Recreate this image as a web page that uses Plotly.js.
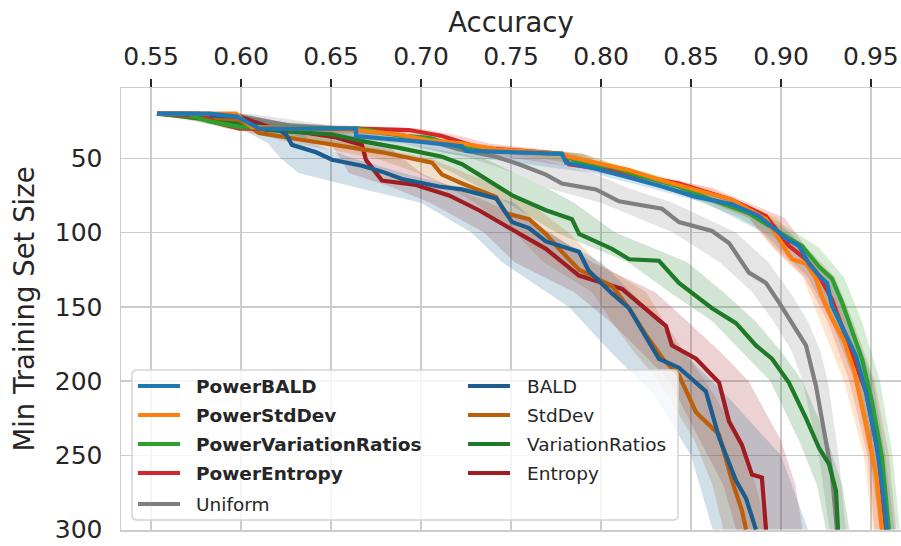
<!DOCTYPE html>
<html>
<head>
<meta charset="utf-8">
<script src="https://cdn.plot.ly/plotly-3.0.1.min.js"></script>
<style>html,body{margin:0;padding:0;background:#fff;}#chart{width:901px;height:546px;}</style>
</head>
<body>
<div id="chart"></div>
<script>
// ---- Series names ----
const NAMES = ['PowerBALD','PowerStdDev','PowerVariationRatios','PowerEntropy','Uniform','BALD','StdDev','VariationRatios','Entropy'];

// ---- Lines: accuracy (x) and min training set size (y) ----
const PBALD_X = [0.5533,0.5822,0.5978,0.6044,0.6100,0.6639,0.6639,0.7006,0.7228,0.7250,0.7783,0.7806,0.7972,0.8156,0.8339,0.8528,0.8728,0.8878,0.8972,0.9028,0.9100,0.9156,0.9211,0.9256,0.9283,0.9339,0.9417,0.9472,0.9528,0.9561,0.9589];
const PBALD_Y = [20,20,22,26,30,30,35,39,42,45,47,53,57,63,69,76,81,89,98,104,109,121,129,134,149,163,183,207,241,269,300];

const PSTD_X = [0.5533,0.5972,0.6028,0.6061,0.6639,0.6878,0.7044,0.7228,0.7417,0.7783,0.7822,0.7972,0.8156,0.8339,0.8528,0.8728,0.8917,0.8972,0.9061,0.9139,0.9194,0.9228,0.9283,0.9350,0.9406,0.9472,0.9528,0.9561];
const PSTD_Y = [20,20,26,29,31,34,38,40,44,47,49,53,58,65,71,78,91,101,118,121,131,143,158,173,193,229,263,300];

const PVR_X = [0.5533,0.5711,0.5739,0.5822,0.5989,0.6639,0.6711,0.6894,0.7044,0.7228,0.7417,0.7783,0.7878,0.8061,0.8250,0.8433,0.8617,0.8822,0.9006,0.9117,0.9211,0.9283,0.9339,0.9394,0.9450,0.9506,0.9561,0.9600];
const PVR_Y = [20,20,22,25,29,30,31,35,36,43,45,47,53,56,63,69,78,87,101,109,123,131,147,165,185,214,251,300];

const PENT_X = [0.5533,0.5767,0.5861,0.5989,0.6639,0.6933,0.7117,0.7322,0.7783,0.7822,0.8061,0.8250,0.8433,0.8617,0.8728,0.8917,0.9044,0.9139,0.9211,0.9283,0.9339,0.9394,0.9472,0.9544,0.9583];
const PENT_Y = [20,20,26,30,30,31,35,43,47,54,58,63,67,74,78,89,109,118,129,145,163,181,207,251,300];

const UNI_X = [0.5533,0.6044,0.6267,0.6639,0.6989,0.7211,0.7417,0.7544,0.7694,0.7783,0.7972,0.8100,0.8339,0.8433,0.8617,0.8711,0.8822,0.8917,0.8989,0.9061,0.9139,0.9194,0.9250,0.9283,0.9311];
const UNI_Y = [20,23,28,31,36,44,49,54,61,67,71,79,84,93,99,107,127,134,147,161,176,203,241,263,300];

const BALD_X = [0.5533,0.5989,0.6044,0.6211,0.6250,0.6283,0.6417,0.6506,0.6672,0.6783,0.6894,0.7100,0.7228,0.7417,0.7506,0.7600,0.7694,0.7878,0.7933,0.8061,0.8156,0.8228,0.8322,0.8433,0.8583,0.8656,0.8750,0.8806,0.8861];
const BALD_Y = [20,22,27,31,34,41,46,51,55,59,64,69,71,77,93,97,106,113,126,141,151,166,185,191,207,238,267,279,300];

const STD_X = [0.5533,0.5989,0.6100,0.6361,0.6600,0.6783,0.7061,0.7117,0.7228,0.7417,0.7472,0.7600,0.7694,0.7767,0.7878,0.8061,0.8156,0.8250,0.8350,0.8433,0.8528,0.8656,0.8728,0.8783,0.8806];
const STD_Y = [20,24,33,38,43,46,53,61,67,76,87,91,101,111,125,136,151,169,186,196,221,236,267,287,300];

const VR_X = [0.5533,0.5989,0.6139,0.6506,0.6694,0.6878,0.7117,0.7228,0.7322,0.7506,0.7694,0.7839,0.7878,0.8061,0.8156,0.8322,0.8433,0.8617,0.8750,0.8861,0.8950,0.9044,0.9139,0.9211,0.9267,0.9306,0.9317];
const VR_Y = [20,26,31,34,39,43,49,54,61,75,85,91,101,111,118,119,134,151,161,176,185,201,225,245,256,274,300];

const ENT_X = [0.5533,0.5989,0.6156,0.6528,0.6672,0.6694,0.6783,0.6972,0.7156,0.7322,0.7506,0.7694,0.7878,0.8117,0.8361,0.8394,0.8528,0.8656,0.8711,0.8783,0.8839,0.8894,0.8917];
const ENT_Y = [20,22,29,36,41,51,65,68,75,85,98,111,129,138,163,176,185,201,227,243,263,265,300];

// ---- Bands: training size levels with lower / upper accuracy ----
const PBALD_BY  = [20,25,30,40,47,60,80,100,130,160,200,250,300];
const PBALD_LO  = [0.553,0.590,0.605,0.690,0.715,0.795,0.858,0.890,0.915,0.928,0.941,0.949,0.955];
const PBALD_HI  = [0.590,0.615,0.672,0.712,0.785,0.815,0.878,0.905,0.928,0.939,0.951,0.958,0.963];

const PSTD_BY = [20,25,30,35,40,47,55,70,90,110,130,160,200,250,300];
const PSTD_LO = [0.553,0.592,0.600,0.680,0.710,0.750,0.792,0.842,0.882,0.895,0.912,0.922,0.935,0.946,0.951];
const PSTD_HI = [0.600,0.612,0.672,0.700,0.730,0.790,0.810,0.860,0.898,0.910,0.926,0.936,0.947,0.957,0.961];

const PVR_BY = [20,25,30,35,40,47,55,70,90,110,130,160,200,250,300];
const PVR_LO = [0.553,0.575,0.592,0.680,0.705,0.750,0.790,0.835,0.877,0.905,0.920,0.930,0.942,0.951,0.955];
const PVR_HI = [0.578,0.592,0.672,0.698,0.725,0.790,0.810,0.855,0.895,0.921,0.935,0.945,0.955,0.962,0.966];

const PENT_BY = [20,25,30,35,40,47,55,70,90,110,130,160,200,250,300];
const PENT_LO = [0.553,0.578,0.592,0.700,0.715,0.735,0.780,0.840,0.882,0.896,0.913,0.926,0.938,0.948,0.952];
const PENT_HI = [0.580,0.595,0.700,0.722,0.738,0.790,0.802,0.862,0.902,0.914,0.930,0.940,0.952,0.960,0.964];

const UNI_BY = [20,30,40,50,60,70,80,100,120,140,160,180,200,250,300];
const UNI_LO = [0.553,0.615,0.690,0.728,0.752,0.770,0.800,0.840,0.866,0.884,0.896,0.906,0.912,0.921,0.927];
const UNI_HI = [0.605,0.662,0.728,0.765,0.795,0.815,0.840,0.875,0.893,0.905,0.915,0.922,0.926,0.932,0.936];

const BALD_BY = [20,30,40,50,60,70,80,100,120,150,180,210,250,300];
const BALD_LO = [0.553,0.600,0.615,0.622,0.632,0.665,0.700,0.728,0.745,0.782,0.805,0.830,0.850,0.862];
const BALD_HI = [0.600,0.632,0.640,0.662,0.690,0.722,0.752,0.770,0.800,0.825,0.845,0.870,0.900,0.915];

const STD_BY = [20,30,40,50,60,70,80,100,120,140,160,180,200,240,270,300];
const STD_LO = [0.553,0.595,0.630,0.675,0.698,0.716,0.730,0.752,0.768,0.795,0.806,0.818,0.832,0.852,0.862,0.868];
const STD_HI = [0.595,0.620,0.660,0.705,0.725,0.745,0.760,0.782,0.798,0.825,0.835,0.846,0.858,0.878,0.886,0.892];

const VR_BY = [20,30,40,50,60,70,80,100,120,140,160,180,200,240,270,300];
const VR_LO = [0.553,0.600,0.655,0.700,0.718,0.733,0.748,0.775,0.815,0.838,0.862,0.878,0.894,0.910,0.920,0.925];
const VR_HI = [0.600,0.640,0.690,0.735,0.752,0.770,0.785,0.808,0.848,0.868,0.886,0.900,0.912,0.926,0.934,0.938];

const ENT_BY = [20,30,40,50,60,70,80,100,120,140,160,180,200,240,270,300];
const ENT_LO = [0.553,0.612,0.650,0.655,0.660,0.685,0.705,0.735,0.752,0.785,0.805,0.822,0.838,0.855,0.868,0.875];
const ENT_HI = [0.600,0.642,0.680,0.690,0.700,0.718,0.738,0.772,0.795,0.830,0.848,0.866,0.882,0.900,0.908,0.912];

// ---- Style ----
const COLORS = {
  PowerBALD:'#1f77b4', PowerStdDev:'#ff7f0e', PowerVariationRatios:'#2ca02c', PowerEntropy:'#d62728',
  Uniform:'#7f7f7f', BALD:'#1b5d8e', StdDev:'#bb5f0b', VariationRatios:'#1f7a27', Entropy:'#a01c21'
};
const BOLD = {PowerBALD:true, PowerStdDev:true, PowerVariationRatios:true, PowerEntropy:true};
// legend layout: [column, row]
const LEGEND_POS = {
  PowerBALD:[0,0], PowerStdDev:[0,1], PowerVariationRatios:[0,2], PowerEntropy:[0,3], Uniform:[0,4],
  BALD:[1,0], StdDev:[1,1], VariationRatios:[1,2], Entropy:[1,3]
};

const SERIES = {
  PowerBALD:[PBALD_X,PBALD_Y,PBALD_BY,PBALD_LO,PBALD_HI],
  PowerStdDev:[PSTD_X,PSTD_Y,PSTD_BY,PSTD_LO,PSTD_HI],
  PowerVariationRatios:[PVR_X,PVR_Y,PVR_BY,PVR_LO,PVR_HI],
  PowerEntropy:[PENT_X,PENT_Y,PENT_BY,PENT_LO,PENT_HI],
  Uniform:[UNI_X,UNI_Y,UNI_BY,UNI_LO,UNI_HI],
  BALD:[BALD_X,BALD_Y,BALD_BY,BALD_LO,BALD_HI],
  StdDev:[STD_X,STD_Y,STD_BY,STD_LO,STD_HI],
  VariationRatios:[VR_X,VR_Y,VR_BY,VR_LO,VR_HI],
  Entropy:[ENT_X,ENT_Y,ENT_BY,ENT_LO,ENT_HI]
};

function rgba(hex, a){
  const n = parseInt(hex.slice(1),16);
  return 'rgba(' + ((n>>16)&255) + ',' + ((n>>8)&255) + ',' + (n&255) + ',' + a + ')';
}

const DRAW_ORDER = ['Uniform','Entropy','VariationRatios','StdDev','BALD','PowerEntropy','PowerVariationRatios','PowerStdDev','PowerBALD'];
const traces = [];
DRAW_ORDER.forEach(function(nm){
  const s = SERIES[nm];
  traces.push({
    type:'scatter', mode:'lines',
    x: s[3].concat(s[4].slice().reverse()),
    y: s[2].concat(s[2].slice().reverse()),
    fill:'toself', fillcolor: rgba(COLORS[nm], 0.2),
    line:{width:0, color:'rgba(0,0,0,0)'},
    hoverinfo:'skip', showlegend:false
  });
});
DRAW_ORDER.forEach(function(nm){
  const s = SERIES[nm];
  traces.push({
    type:'scatter', mode:'lines', name:nm,
    x: s[0], y: s[1],
    line:{color: COLORS[nm], width:4.2, shape:'linear'},
    showlegend:false
  });
});

// ---- Plot geometry (pixels) for the hand-placed legend ----
const ML = 121, MT = 88, PW = 780, PH = 442;
function px(x){ return (x - ML) / PW; }
function py(y){ return (MT + PH - y) / PH; }

const FONT = 'DejaVu Sans, sans-serif';
const TXT = '#262626';

const shapes = [];
const annotations = [];
// legend frame (rounded)
(function(){
  const x0 = 132, x1 = 678, y0 = 370, y1 = 520, r = 5;
  const X0 = px(x0), X1 = px(x1), Y0 = py(y0), Y1 = py(y1);
  const rx = r / PW, ry = r / PH;
  const path = 'M' + (X0+rx) + ',' + Y0 + ' L' + (X1-rx) + ',' + Y0 +
    ' Q' + X1 + ',' + Y0 + ' ' + X1 + ',' + (Y0-ry) +
    ' L' + X1 + ',' + (Y1+ry) + ' Q' + X1 + ',' + Y1 + ' ' + (X1-rx) + ',' + Y1 +
    ' L' + (X0+rx) + ',' + Y1 + ' Q' + X0 + ',' + Y1 + ' ' + X0 + ',' + (Y1+ry) +
    ' L' + X0 + ',' + (Y0-ry) + ' Q' + X0 + ',' + Y0 + ' ' + (X0+rx) + ',' + Y0 + ' Z';
  shapes.push({type:'path', xref:'paper', yref:'paper', path:path, layer:'above',
    fillcolor:'rgba(255,255,255,0.8)', line:{color:'#d3d3d3', width:1.5}});
})();
const ROW_Y = [386, 415, 444, 473, 504];
const COL_LINE_X = [138, 468];
const COL_TEXT_X = [194, 525];
Object.keys(LEGEND_POS).forEach(function(nm){
  const c = LEGEND_POS[nm][0], r = LEGEND_POS[nm][1];
  const yy = py(ROW_Y[r]);
  shapes.push({type:'line', xref:'paper', yref:'paper', layer:'above',
    x0:px(COL_LINE_X[c]), x1:px(COL_LINE_X[c] + 42), y0:yy, y1:yy,
    line:{color:COLORS[nm], width:4.2}});
  annotations.push({xref:'paper', yref:'paper', x:px(COL_TEXT_X[c]), y:yy,
    xanchor:'left', yanchor:'middle', showarrow:false,
    text: BOLD[nm] ? '<b>' + nm + '</b>' : nm,
    font:{family:FONT, size:18.5, color:TXT}});
});

const layout = {
  width:901, height:546,
  margin:{l:ML, r:0, t:MT, b:546 - MT - PH},
  paper_bgcolor:'#ffffff', plot_bgcolor:'#ffffff',
  font:{family:FONT, color:TXT, size:25},
  showlegend:false,
  shapes:shapes, annotations:annotations,
  xaxis:{
    side:'top', range:[0.5333,0.9667], tick0:0.55, dtick:0.05, tickformat:'.2f',
    showline:true, linecolor:'#cccccc', linewidth:1.5, mirror:true,
    showgrid:true, gridcolor:'#cccccc', gridwidth:1.5, zeroline:false,
    ticks:'outside', ticklen:8, tickwidth:1.5, tickcolor:TXT, ticklabelstandoff:4,
    tickfont:{family:FONT, size:25, color:TXT},
    title:{text:'Accuracy', font:{family:FONT, size:27.5, color:TXT}, standoff:1}
  },
  yaxis:{
    range:[300.3,2.7], tick0:0, dtick:50,
    showline:true, linecolor:'#cccccc', linewidth:1.5, mirror:false,
    showgrid:true, gridcolor:'#cccccc', gridwidth:1.5, zeroline:false,
    ticks:'', ticklabelstandoff:12, ticklabeloverflow:'allow',
    tickfont:{family:FONT, size:25, color:TXT},
    title:{text:'Min Training Set Size', font:{family:FONT, size:27.5, color:TXT}, standoff:12}
  }
};

Plotly.newPlot('chart', traces, layout, {displayModeBar:false, staticPlot:true});
</script>
</body>
</html>
